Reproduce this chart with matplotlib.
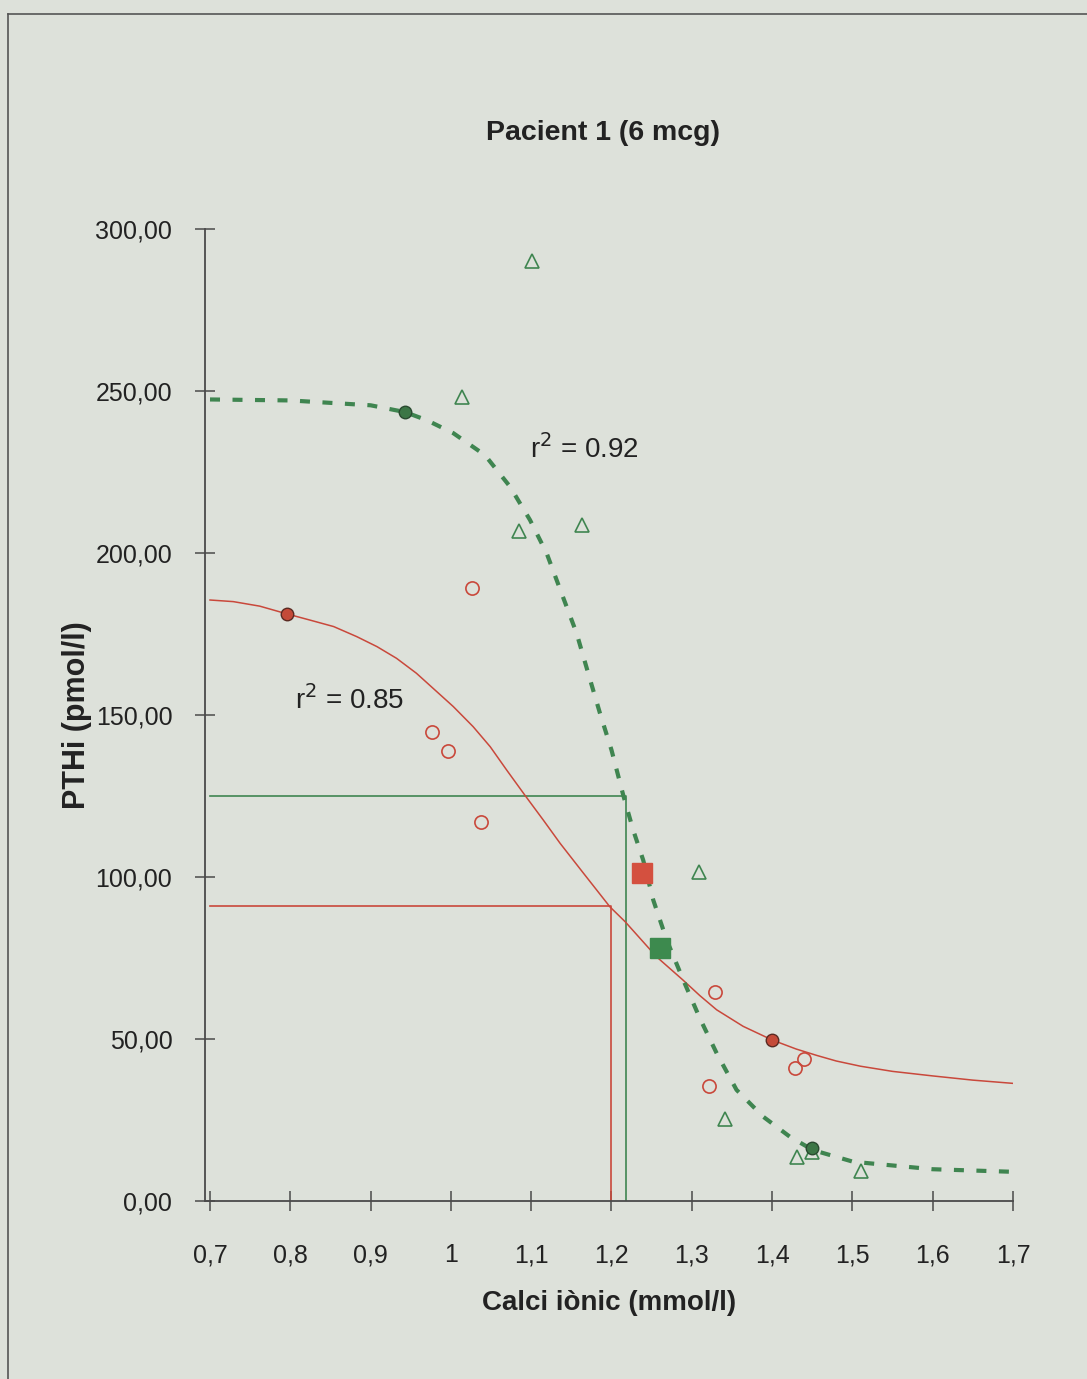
import matplotlib.pyplot as plt
from matplotlib.lines import Line2D

# axis ticks
x_ticks = [0.7, 0.8, 0.9, 1.0, 1.1, 1.2, 1.3, 1.4, 1.5, 1.6, 1.7]
x_tick_labels = ['0,7', '0,8', '0,9', '1', '1,1', '1,2', '1,3', '1,4', '1,5', '1,6', '1,7']
y_ticks = [0, 50, 100, 150, 200, 250, 300]
y_tick_labels = ['0,00', '50,00', '100,00', '150,00', '200,00', '250,00', '300,00']

# open red circles: measured points, first period
red_ca = [1.026, 0.976, 0.997, 1.037, 1.329, 1.321, 1.429, 1.440]
red_pth = [189.1, 144.7, 138.9, 117.1, 64.6, 35.6, 41.0, 43.7]

# open green triangles: measured points, second period
green_ca = [1.101, 1.014, 1.085, 1.163, 1.309, 1.341, 1.431, 1.450, 1.511]
green_pth = [290.0, 248.1, 206.8, 208.6, 101.5, 25.3, 13.6, 15.1, 9.3]

# filled circles on the curves (max / min)
red_fit_ca = [0.796, 1.400]
red_fit_pth = [181.2, 49.7]
green_fit_ca = [0.943, 1.450]
green_fit_pth = [243.5, 16.4]

# sigmoid fit, first period (solid red)
red_curve_ca = [0.70, 0.729, 0.762, 0.796, 0.8245, 0.854, 0.8827, 0.908, 0.9323,
                0.957, 0.978, 1.003, 1.0277, 1.049, 1.0695, 1.092, 1.115, 1.136,
                1.165, 1.198, 1.217, 1.256, 1.289, 1.31, 1.331, 1.364, 1.400,
                1.43, 1.456, 1.48, 1.51, 1.55, 1.60, 1.65, 1.70]
red_curve_pth = [185.5, 185.0, 183.6, 181.2, 179.3, 177.3, 174.2, 171.1, 167.5,
                 162.9, 158.2, 152.6, 146.4, 140.2, 133.0, 125.3, 117.6, 110.4,
                 101.2, 90.8, 86.2, 75.4, 68.2, 63.4, 59.0, 53.9, 49.7,
                 46.9, 44.9, 43.2, 41.6, 40.0, 38.6, 37.3, 36.3]

# sigmoid fit, second period (dashed green)
green_curve_ca = [0.70, 0.80, 0.90, 0.943, 0.97, 1.003, 1.0425, 1.0736, 1.0985,
                  1.1193, 1.1378, 1.1566, 1.171, 1.1857, 1.200, 1.2146, 1.227,
                  1.2395, 1.252, 1.2687, 1.2894, 1.310, 1.331, 1.3557, 1.389,
                  1.4223, 1.451, 1.501, 1.60, 1.70]
green_curve_pth = [247.4, 247.1, 245.6, 243.5, 241.0, 237.0, 230.2, 220.5, 210.2,
                   199.9, 187.6, 175.2, 162.9, 150.5, 139.2, 125.3, 114.5,
                   105.2, 92.9, 80.6, 68.2, 56.4, 45.6, 34.3, 26.0,
                   19.8, 15.7, 12.1, 9.8, 9.0]

# set points (squares) and the guide lines to the axes
setpoint_ca = [1.238, 1.260]
setpoint_pth = [101.1, 78.2]
guide_ca = [1.200, 1.218]
guide_pth = [91.0, 125.0]

paper = '#dde1da'
red = '#c9483b'
green = '#3f8550'
axis_grey = '#4a4a4a'
ink = '#222222'

fig = plt.figure(figsize=(10.87, 13.79), dpi=100, facecolor=paper)
ax = fig.add_axes([0.1886, 0.1291, 0.7433, 0.7048])
ax.set_facecolor(paper)

# guide lines
ax.plot([0.7, guide_ca[0], guide_ca[0]], [guide_pth[0], guide_pth[0], 0],
        color=red, lw=1.2, zorder=2)
ax.plot([0.7, guide_ca[1], guide_ca[1]], [guide_pth[1], guide_pth[1], 0],
        color=green, lw=1.2, zorder=2)

# fitted curves
ax.plot(red_curve_ca, red_curve_pth, color=red, lw=1.1, zorder=3)
ax.plot(green_curve_ca, green_curve_pth, color=green, lw=3.0,
        dashes=(2.4, 3.0), zorder=3)

# measured points
ax.plot(red_ca, red_pth, 'o', ms=9.5, mfc='none', mec=red, mew=1.2, zorder=4)
ax.plot(green_ca, green_pth, '^', ms=10.5, mfc='none', mec=green, mew=1.2, zorder=4)
ax.plot(red_fit_ca, red_fit_pth, 'o', ms=9, mfc='#c44a38', mec='#5a2a22', mew=1.0, zorder=5)
ax.plot(green_fit_ca, green_fit_pth, 'o', ms=9, mfc='#3c7646', mec='#2a4a30', mew=1.0, zorder=5)

# set points
ax.plot(setpoint_ca[0], setpoint_pth[0], 's', ms=14, mfc='#d4503f', mec='#d4503f', zorder=6)
ax.plot(setpoint_ca[1], setpoint_pth[1], 's', ms=14, mfc='#3d8a4e', mec='#3d8a4e', zorder=6)

ax.text(1.0985, 232, r'r$^2$ = 0.92', fontsize=20, color=ink,
        ha='left', va='center', family='Liberation Sans')
ax.text(0.806, 154.6, r'r$^2$ = 0.85', fontsize=20, color=ink,
        ha='left', va='center', family='Liberation Sans')

ax.set_xlim(0.7 - 5 / 803, 1.7)
ax.set_ylim(0, 300)
ax.set_xticks(x_ticks)
ax.set_xticklabels(x_tick_labels)
ax.set_yticks(y_ticks)
ax.set_yticklabels(y_tick_labels)

for side in ['top', 'right']:
    ax.spines[side].set_visible(False)
for side in ['left', 'bottom']:
    ax.spines[side].set_color(axis_grey)
    ax.spines[side].set_linewidth(1.3)
    ax.spines[side].set_clip_on(False)

ax.tick_params(axis='both', direction='inout', length=15, width=1.1,
               color=axis_grey, labelsize=18, labelcolor=ink)
ax.tick_params(axis='x', pad=23)
ax.tick_params(axis='y', pad=16)
for lbl in ax.get_xticklabels() + ax.get_yticklabels():
    lbl.set_family('Liberation Sans')

ax.set_xlabel('Calci iònic (mmol/l)', fontsize=20, fontweight='bold',
              family='Liberation Sans', color=ink, labelpad=16)
ax.set_ylabel('PTHi (pmol/l)', fontsize=22, fontweight='bold',
              family='Liberation Sans', color=ink, va='center')
ax.yaxis.set_label_coords(-0.158, 0.5)

fig.text(0.5547, 0.9035, 'Pacient 1 (6 mcg)', fontsize=20.5, fontweight='bold',
         family='Liberation Sans', color=ink, ha='center', va='center')

# page frame
fig.add_artist(Line2D([0.0074, 1.0], [0.9898, 0.9898], transform=fig.transFigure,
                      color='#555555', lw=1.2))
fig.add_artist(Line2D([0.0074, 0.0074], [0.0, 0.9898], transform=fig.transFigure,
                      color='#555555', lw=1.2))

fig.savefig('out.png', dpi=100, facecolor=paper)
